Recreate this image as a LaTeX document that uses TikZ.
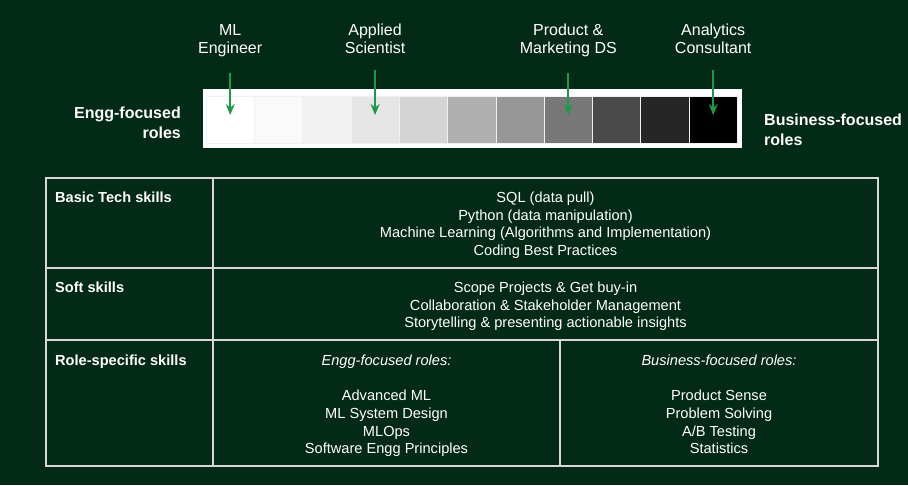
\documentclass[tikz,border=0pt]{standalone}
\usepackage{fontspec}
\setmainfont{Liberation Sans}
\usetikzlibrary{positioning,arrows.meta}
\definecolor{bgGreen}{RGB}{3,42,22}
\definecolor{arrGreen}{RGB}{26,155,74}
\definecolor{lineGray}{RGB}{215,215,215}
\begin{document}
\begin{tikzpicture}[x=1pt, y=-1pt,
    tone/.style={draw=black!6, line width=0.6pt, minimum width=48.3pt,
        minimum height=47pt, inner sep=0pt, outer sep=0pt},
    role/.style={text=white, align=center, inner sep=2pt,
        font=\fontsize{16}{18}\selectfont},
    sidelab/.style={text=white, inner sep=0pt,
        font=\bfseries\fontsize{16}{19.5}\selectfont},
    arr/.style={-{Stealth[length=11pt,width=9pt]}, line width=2pt, draw=arrGreen},
    tabline/.style={draw=lineGray, line width=1.3pt},
    rowhead/.style={text=white, anchor=base west, inner sep=0pt,
        font=\bfseries\fontsize{14.6}{17.7}\selectfont},
    rowbody/.style={text=white, anchor=base, align=center, inner sep=0pt,
        font=\fontsize{14.6}{17.7}\selectfont}
]
\useasboundingbox (0,0) rectangle (908,485);
\fill[bgGreen] (0,0) rectangle (908,485);

% scale of roles
\fill[white] (203,89) rectangle (742,148);
\foreach\g [count=\i from 0] in {100,98,95,90,83,69,59,47,29,15,0}{
    \node[tone, fill=white!\g!black] (C\i) at ({230.2+48.3*\i}, 119.5) {};
}
% base anchor sits on the last line
\foreach\c/\t/\n in {0/{ML\\Engineer}/ml, 3/{Applied\\Scientist}/as,
        7/{Product \&\\Marketing DS}/pm, 10/{Analytics\\Consultant}/ac}{
    \node[role, anchor=base] (L\n) at ({230.2+48.3*\c}, 53.7) {\t};
    \draw[arr, shorten <=14pt, shorten >=4.5pt] (L\n) -- (C\c.center);
}
\node[sidelab, anchor=base east, align=right] (Eng) at (181,138) {Engg-focused\\roles};
\node[sidelab, anchor=base west, align=left] (Bus) at (764,145) {Business-focused\\roles};

% skills table
\draw[tabline] (46,178) rectangle (878,466);
\draw[tabline] (213,178) -- (213,466);
\draw[tabline] (46,268) -- (878,268);
\draw[tabline] (46,340) -- (878,340);
\draw[tabline] (560,340) -- (560,466);

\node[rowhead] (H1) at (55,202.3) {Basic Tech skills};
\node[rowbody] (B1) at (545.5,255.4) {SQL (data pull)\\Python (data manipulation)\\
    Machine Learning (Algorithms and Implementation)\\Coding Best Practices};
\node[rowhead] (H2) at (55,292.3) {Soft skills};
\node[rowbody] (B2) at (545.5,327.7) {Scope Projects \& Get buy-in\\
    Collaboration \& Stakeholder Management\\Storytelling \& presenting actionable insights};
\node[rowhead] (H3) at (55,365.3) {Role-specific skills};
\node[rowbody] (B3) at (386.5,453.8) {\textit{Engg-focused roles:}\\[17.7pt]
    Advanced ML\\ML System Design\\MLOps\\Software Engg Principles};
\node[rowbody] (B4) at (719,453.8) {\textit{Business-focused roles:}\\[17.7pt]
    Product Sense\\Problem Solving\\A/B Testing\\Statistics};
\end{tikzpicture}
\end{document}
